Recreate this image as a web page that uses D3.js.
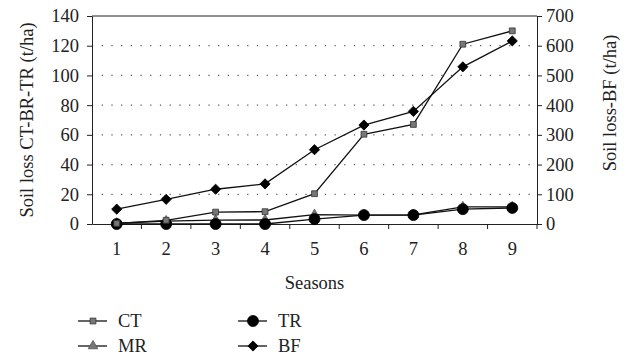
<!DOCTYPE html>
<html>
<head>
<meta charset="utf-8">
<script src="https://cdn.jsdelivr.net/npm/d3@7"></script>
<style>
  body { margin: 0; background: #fff; }
  svg text { font-family: "Liberation Serif", "DejaVu Serif", serif; fill: #222; }
</style>
</head>
<body>
<div id="chart"></div>
<script>
// seasons and soil loss values (t/ha)
const seasons = [1, 2, 3, 4, 5, 6, 7, 8, 9];
const ct = [0.4, 2.5, 8, 8.3, 20.4, 60.4, 67, 121, 130];   // left axis
const mr = [0.5, 2, 2.6, 2.7, 6.3, 6, 6.2, 11.5, 11.5];    // left axis
const tr = [0, 0, 0, 0, 3.3, 6, 6, 10, 10.8];              // left axis
const bf = [50, 83, 117, 135, 250, 333, 379, 529, 616];    // right axis
const leftTicks = [0, 20, 40, 60, 80, 100, 120, 140];
const rightTicks = [0, 100, 200, 300, 400, 500, 600, 700];

const W = 628, H = 358;
const margin = { top: 16, right: 91, bottom: 134, left: 92 };
const width = W - margin.left - margin.right;
const height = H - margin.top - margin.bottom;

const svg = d3.select("#chart").append("svg")
  .attr("width", W).attr("height", H);
const g = svg.append("g")
  .attr("transform", `translate(${margin.left},${margin.top})`);

const x = d3.scaleBand().domain(seasons).range([0, width]);
const xc = d => x(d) + x.bandwidth() / 2;
const yL = d3.scaleLinear().domain([0, 140]).range([height, 0]);
const yR = d3.scaleLinear().domain([0, 700]).range([height, 0]);

// dotted gridlines
g.selectAll(".grid").data(leftTicks.filter(t => t > 0 && t < 140))
  .enter().append("line")
  .attr("x1", 0).attr("x2", width)
  .attr("y1", d => yL(d)).attr("y2", d => yL(d))
  .attr("stroke", "#555").attr("stroke-width", 1.2)
  .attr("stroke-dasharray", "1.2,8.5");

// top frame line
g.append("line").attr("x1", 0).attr("x2", width)
  .attr("y1", 0).attr("y2", 0).attr("stroke", "#222");

// axes
const fs = "18.5px";
const ax = g.append("g").attr("transform", `translate(0,${height})`)
  .call(d3.axisBottom(x).tickSize(0).tickPadding(18));
ax.selectAll(".tick line").remove();
ax.selectAll("text").attr("font-size", fs).attr("font-family", null);
ax.selectAll(".boundary").data(d3.range(1, seasons.length + 1))
  .enter().append("line")
  .attr("x1", i => i * x.step()).attr("x2", i => i * x.step())
  .attr("y1", 0).attr("y2", 5).attr("stroke", "#222");

const al = g.append("g")
  .call(d3.axisLeft(yL).tickValues(leftTicks).tickSize(5).tickPadding(8).tickSizeOuter(0));
al.selectAll("text").attr("font-size", fs).attr("font-family", null);

const ar = g.append("g").attr("transform", `translate(${width},0)`)
  .call(d3.axisRight(yR).tickValues(rightTicks).tickSize(5).tickPadding(4).tickSizeOuter(0));
ar.selectAll("text").attr("font-size", fs).attr("font-family", null);

g.selectAll(".domain, .tick line").attr("stroke", "#222");

// axis titles
svg.append("text")
  .attr("transform", `translate(33,${margin.top + height / 2}) rotate(-90)`)
  .attr("text-anchor", "middle").attr("font-size", fs)
  .text("Soil loss CT-BR-TR (t/ha)");
svg.append("text")
  .attr("transform", `translate(616,103) rotate(-90)`)
  .attr("text-anchor", "middle").attr("font-size", fs)
  .text("Soil loss-BF (t/ha)");
svg.append("text")
  .attr("x", margin.left + width / 2).attr("y", 289)
  .attr("text-anchor", "middle").attr("font-size", fs)
  .text("Seasons");

// marker shapes
const markers = {
  CT: { sym: d3.symbolSquare, size: 34, rot: 0, fill: "#777", stroke: "#333" },
  MR: { sym: d3.symbolTriangle, size: 40, rot: 0, fill: "#777", stroke: "#555" },
  TR: { sym: d3.symbolCircle, size: 95, rot: 0, fill: "#000", stroke: "#000" },
  BF: { sym: d3.symbolSquare, size: 52, rot: 45, fill: "#000", stroke: "#000" }
};

const series = [
  { name: "MR", vals: mr, y: yL },
  { name: "TR", vals: tr, y: yL },
  { name: "CT", vals: ct, y: yL },
  { name: "BF", vals: bf, y: yR }
];

series.forEach(s => {
  const pts = seasons.map((d, i) => [xc(d), s.y(s.vals[i])]);
  g.append("path").attr("d", d3.line()(pts))
    .attr("fill", "none").attr("stroke", "#111").attr("stroke-width", 1.3);
  const m = markers[s.name];
  g.selectAll(null).data(pts).enter().append("path")
    .attr("transform", p => `translate(${p[0]},${p[1]}) rotate(${m.rot})`)
    .attr("d", d3.symbol().type(m.sym).size(m.size))
    .attr("fill", m.fill).attr("stroke", m.stroke).attr("stroke-width", 0.8);
});

// legend
const legend = [
  { name: "CT", x: 78, y: 321 },
  { name: "MR", x: 78, y: 346 },
  { name: "TR", x: 238, y: 321 },
  { name: "BF", x: 238, y: 346 }
];
legend.forEach(l => {
  const lg = svg.append("g");
  lg.append("line").attr("x1", l.x).attr("x2", l.x + 29)
    .attr("y1", l.y).attr("y2", l.y).attr("stroke", "#111").attr("stroke-width", 1.3);
  const m = markers[l.name];
  lg.append("path").attr("transform", `translate(${l.x + 15},${l.y}) rotate(${m.rot})`)
    .attr("d", d3.symbol().type(m.sym).size(m.size))
    .attr("fill", m.fill).attr("stroke", m.stroke).attr("stroke-width", 0.8);
  lg.append("text").attr("x", l.x + 40).attr("y", l.y + 6)
    .attr("font-size", fs).text(l.name);
});
</script>
</body>
</html>
